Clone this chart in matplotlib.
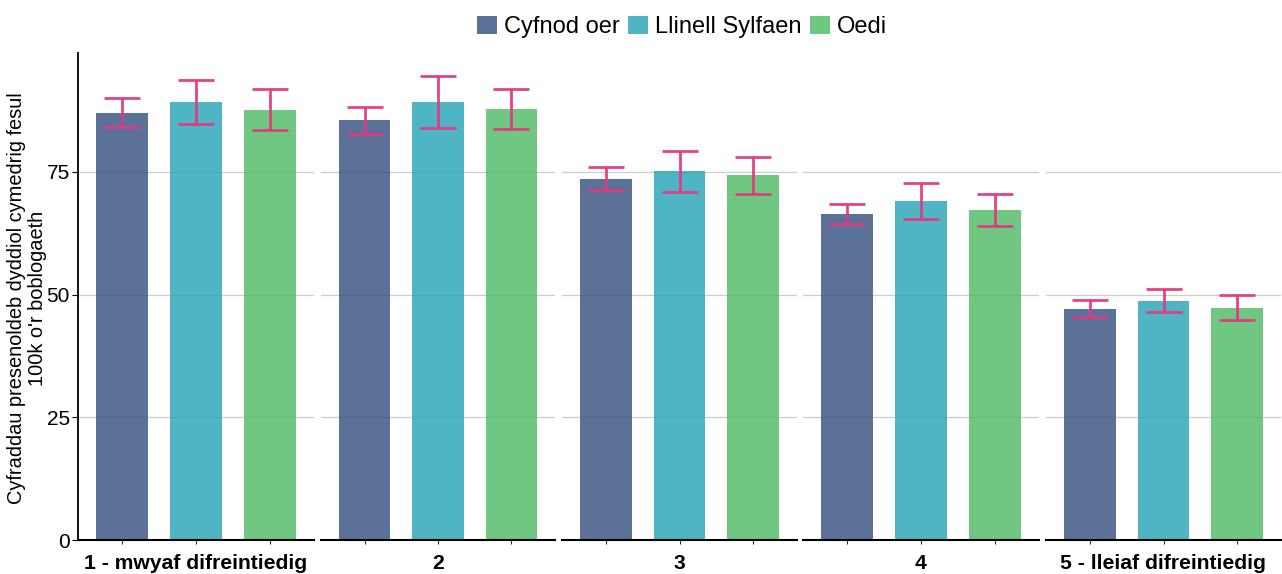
import matplotlib
matplotlib.use("Agg")
import matplotlib.pyplot as plt
from matplotlib.patches import Patch

plt.rcParams["font.family"] = ["Liberation Sans", "DejaVu Sans"]

groups = ["1 - mwyaf difreintiedig", "2", "3", "4", "5 - lleiaf difreintiedig"]
series = ["Cyfnod oer", "Llinell Sylfaen", "Oedi"]
colors = ["#324e7e", "#23a2b5", "#4bba63"]

# mean rate per group (rows) and series (columns)
means = [
    [87.0, 89.3, 87.6],
    [85.6, 89.3, 87.8],
    [73.6, 75.2, 74.4],
    [66.4, 69.1, 67.3],
    [47.1, 48.7, 47.3],
]
lower = [
    [84.2, 84.8, 83.6],
    [82.7, 84.0, 83.8],
    [71.3, 70.9, 70.5],
    [64.4, 65.4, 64.0],
    [45.5, 46.4, 44.8],
]
upper = [
    [90.1, 93.7, 91.9],
    [88.2, 94.6, 91.9],
    [76.0, 79.3, 78.0],
    [68.5, 72.8, 70.5],
    [48.9, 51.2, 49.9],
]
yticks = [0, 25, 50, 75]
ylabel = "Cyfraddau presenoldeb dyddiol cymedrig fesul\n100k o'r boblogaeth"

W, H = 1282, 574
fig = plt.figure(figsize=(W / 100, H / 100), dpi=100)

panel_px = [(78, 314), (321, 555), (562, 797), (803, 1039), (1046, 1281)]
y_bot, y_top = 540, 53
err_col = "#e23a80"

for i, (g, (x0, x1)) in enumerate(zip(groups, panel_px)):
    ax = fig.add_axes([x0 / W, 1 - y_bot / H, (x1 - x0) / W, (y_bot - y_top) / H])
    xs = [1, 2, 3]
    ax.bar(xs, means[i], width=0.7, color=colors, alpha=0.8, zorder=2,
           edgecolor="none")
    yerr = [[m - l for m, l in zip(means[i], lower[i])],
            [u - m for m, u in zip(means[i], upper[i])]]
    ax.errorbar(xs, means[i], yerr=yerr, fmt="none", ecolor=err_col,
                elinewidth=2.0, capsize=13, capthick=2.0, zorder=3, alpha=0.95)
    ax.set_xlim(0.4, 3.6)
    ax.set_ylim(0, 99.2)
    ax.set_yticks(yticks)
    ax.set_xticks(xs)
    ax.set_xticklabels([])
    # facet label sits under the panel, baseline fixed in pixels
    fig.text((x0 + x1) / 2 / W, 1 - 569 / H, g, ha="center", va="baseline",
             fontsize=15.2, fontweight="bold")
    ax.grid(axis="y", color="#cccccc", lw=0.9, zorder=0)
    ax.set_axisbelow(True)
    for s in ["top", "right"]:
        ax.spines[s].set_visible(False)
    ax.spines["bottom"].set_linewidth(1.5)
    ax.tick_params(axis="x", length=3, width=0.8, color="#333333")
    if i == 0:
        ax.spines["left"].set_linewidth(1.3)
        ax.tick_params(axis="y", labelsize=15, length=4, width=0.8, pad=2)
    else:
        ax.spines["left"].set_visible(False)
        ax.tick_params(axis="y", left=False, labelleft=False)

fig.text(27 / W, 1 - 298 / H, ylabel, rotation=90, ha="center", va="center",
         fontsize=14.4, linespacing=1.15, multialignment="center")

handles = [Patch(facecolor=c, alpha=0.8, edgecolor="none") for c in colors]
fig.legend(handles, series, loc="upper center", bbox_to_anchor=(0.532, 1.01),
           ncol=3, frameon=False, fontsize=17, handlelength=0.85, handleheight=0.85,
           handletextpad=0.3, columnspacing=0.35)

fig.savefig("out.png", dpi=100)
